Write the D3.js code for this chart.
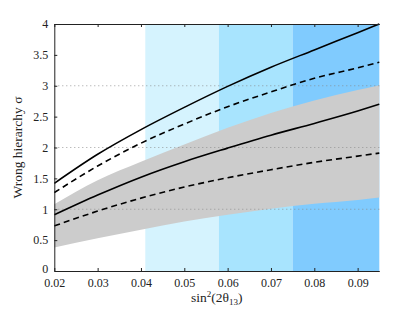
<!DOCTYPE html>
<html>
<head>
<meta charset="utf-8">
<script src="https://cdn.jsdelivr.net/npm/d3@7"></script>
<style>
  body { margin: 0; background: #fff; }
</style>
</head>
<body>
<div id="chart"></div>
<script>
// sin^2(2 theta13) sample points
var xs = [0.02, 0.03, 0.04, 0.05, 0.06, 0.07, 0.08, 0.09, 0.095];

// sensitivity curves
var solidUpper  = [1.42, 1.89, 2.29, 2.65, 2.99, 3.30, 3.58, 3.86, 4.00];
var dashedUpper = [1.27, 1.70, 2.07, 2.38, 2.66, 2.90, 3.12, 3.29, 3.38];
var solidLower  = [0.91, 1.23, 1.52, 1.77, 1.99, 2.20, 2.39, 2.59, 2.70];
var dashedLower = [0.73, 0.97, 1.18, 1.36, 1.51, 1.64, 1.76, 1.86, 1.91];

// grey band
var bandLow  = [0.38, 0.53, 0.67, 0.80, 0.91, 1.01, 1.09, 1.15, 1.19];
var bandHigh = [1.08, 1.47, 1.77, 2.05, 2.32, 2.56, 2.76, 2.93, 3.01];

// blue theta13 regions
var regions = [
  {from: 0.041, to: 0.058, color: "#d5f3fe"},
  {from: 0.058, to: 0.075, color: "#a8e4fe"},
  {from: 0.075, to: 0.095, color: "#80cbfe"}
];

var xTicks = [0.02, 0.03, 0.04, 0.05, 0.06, 0.07, 0.08, 0.09];
var yTicks = [0, 0.5, 1, 1.5, 2, 2.5, 3, 3.5, 4];
var yGrid = [1, 2, 3];

var W = 419, H = 314;
var m = {left: 54.3, right: 39.7, top: 24, bottom: 43};
var SERIF = "'Liberation Serif', 'Times New Roman', Times, serif";

var x = d3.scaleLinear().domain([0.02, 0.095]).range([m.left, W - m.right]);
var y = d3.scaleLinear().domain([0, 4]).range([H - m.bottom, m.top]);

var svg = d3.select("#chart").append("svg")
    .attr("width", W).attr("height", H);

// blue regions
svg.selectAll("rect.region").data(regions).enter()
    .append("rect")
    .attr("class", "region")
    .attr("x", function(d) { return x(d.from); })
    .attr("width", function(d) { return x(d.to) - x(d.from); })
    .attr("y", y(4))
    .attr("height", y(0) - y(4))
    .attr("fill", function(d) { return d.color; });

// grey band
var band = xs.map(function(v, i) { return [v, bandLow[i], bandHigh[i]]; });
svg.append("path")
    .datum(band)
    .attr("fill", "#cccccc")
    .attr("d", d3.area()
        .x(function(d) { return x(d[0]); })
        .y0(function(d) { return y(d[1]); })
        .y1(function(d) { return y(d[2]); })
        .curve(d3.curveMonotoneX));

// dotted grid
svg.selectAll("line.grid").data(yGrid).enter()
    .append("line")
    .attr("x1", x(0.02)).attr("x2", x(0.095))
    .attr("y1", function(d) { return y(d); })
    .attr("y2", function(d) { return y(d); })
    .attr("stroke", "#888")
    .attr("stroke-width", 0.8)
    .attr("stroke-dasharray", "1,3");

// curves
var line = d3.line()
    .x(function(d) { return x(d[0]); })
    .y(function(d) { return y(d[1]); })
    .curve(d3.curveMonotoneX);

var curves = [
  {vals: solidUpper, dash: null},
  {vals: dashedUpper, dash: "6,4"},
  {vals: solidLower, dash: null},
  {vals: dashedLower, dash: "6,4"}
];
curves.forEach(function(c) {
    svg.append("path")
        .datum(xs.map(function(v, i) { return [v, c.vals[i]]; }))
        .attr("fill", "none")
        .attr("stroke", "#000")
        .attr("stroke-width", 1.6)
        .attr("stroke-dasharray", c.dash)
        .attr("d", line);
});

// axes: ticks point inward
var fmtX = function(d) { return d3.format(".2f")(d); };
var fmtY = function(d) { return d === 0 ? "0" : String(d); };

function styleAxis(g) {
    g.attr("font-family", SERIF).attr("font-size", 12);
    g.select(".domain").attr("stroke", "#222");
    g.selectAll("line").attr("stroke", "#222");
    g.selectAll("text")
        .style("font-family", SERIF)
        .style("font-size", "12px")
        .attr("fill", "#222");
}

svg.append("g")
    .attr("transform", "translate(0," + y(0) + ")")
    .call(d3.axisBottom(x).tickValues(xTicks).tickFormat(fmtX).tickSizeInner(-3).tickSizeOuter(0).tickPadding(7))
    .call(styleAxis);

svg.append("g")
    .attr("transform", "translate(0," + y(4) + ")")
    .call(d3.axisTop(x).tickValues(xTicks).tickFormat("").tickSizeInner(-3).tickSizeOuter(0))
    .call(styleAxis);

svg.append("g")
    .attr("transform", "translate(" + x(0.02) + ",0)")
    .call(d3.axisLeft(y).tickValues(yTicks).tickFormat(fmtY).tickSizeInner(-3).tickSizeOuter(0).tickPadding(6))
    .call(styleAxis);

// nudge the "0" up so it clears the x labels
svg.selectAll("text").filter(function() { return this.textContent === "0"; })
    .attr("dy", "0.15em");

// axis titles
var xl = svg.append("text")
    .attr("x", (x(0.02) + x(0.095)) / 2)
    .attr("y", 302)
    .attr("text-anchor", "middle")
    .attr("fill", "#222")
    .style("font-family", SERIF)
    .style("font-size", "13.5px");
xl.append("tspan").text("sin");
xl.append("tspan").attr("dy", -5).style("font-size", "9px").text("2");
xl.append("tspan").attr("dy", 5).text("(2\u03b8");
xl.append("tspan").attr("dy", 3).style("font-size", "9px").text("13");
xl.append("tspan").attr("dy", -3).text(")");

svg.append("text")
    .attr("transform", "translate(22," + ((y(0) + y(4)) / 2) + ") rotate(-90)")
    .attr("text-anchor", "middle")
    .attr("fill", "#222")
    .style("font-family", SERIF)
    .style("font-size", "13.5px")
    .text("Wrong hierarchy \u03c3");
</script>
</body>
</html>
